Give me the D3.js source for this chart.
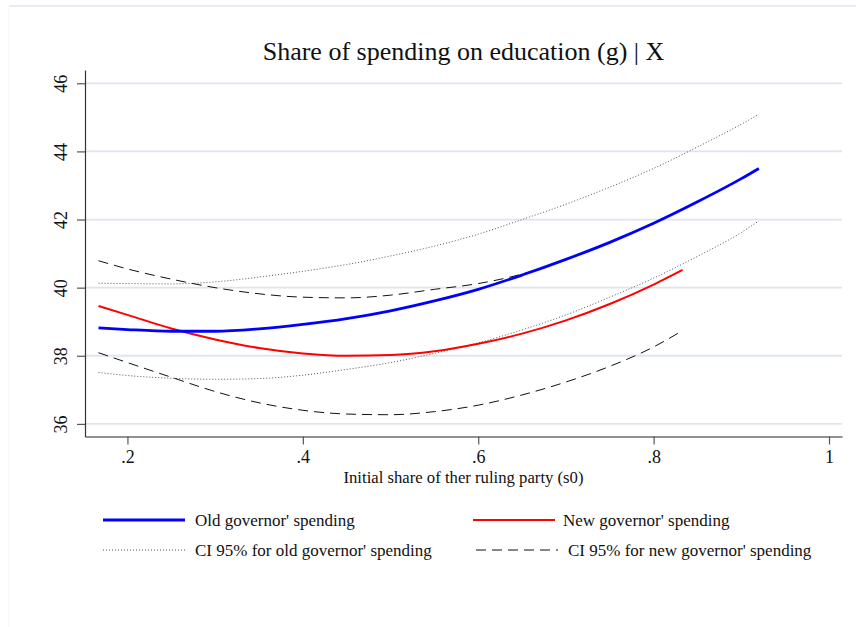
<!DOCTYPE html>
<html>
<head>
<meta charset="utf-8">
<script src="https://cdn.jsdelivr.net/npm/d3@7"></script>
<style>
  html, body { margin: 0; padding: 0; background: #fff; }
  svg { display: block; }
  text { font-family: "Liberation Serif", "Times New Roman", serif; fill: #111; }
</style>
</head>
<body>
<svg id="chart" width="856" height="627"></svg>
<script>
// Fitted share of spending on education against initial ruling-party share
const xOld = [0.167, 0.2, 0.25, 0.3, 0.35, 0.4, 0.45, 0.5, 0.55, 0.6, 0.65, 0.7, 0.75, 0.8, 0.85, 0.9, 0.92];
const oldSpending = [38.82, 38.77, 38.72, 38.72, 38.79, 38.92, 39.09, 39.32, 39.61, 39.95, 40.37, 40.83, 41.33, 41.89, 42.52, 43.2, 43.5];
const oldUpper = [40.13, 40.12, 40.11, 40.17, 40.31, 40.48, 40.68, 40.93, 41.22, 41.57, 42.0, 42.45, 42.95, 43.5, 44.13, 44.8, 45.09];
const oldLower = [37.51, 37.42, 37.34, 37.31, 37.33, 37.43, 37.6, 37.8, 38.07, 38.38, 38.76, 39.2, 39.72, 40.28, 40.92, 41.62, 41.96];

const xNew = [0.167, 0.2, 0.25, 0.3, 0.35, 0.4, 0.45, 0.5, 0.55, 0.6, 0.65, 0.7, 0.75, 0.8, 0.833];
const newSpending = [39.46, 39.2, 38.8, 38.48, 38.23, 38.07, 38.0, 38.02, 38.13, 38.35, 38.65, 39.04, 39.52, 40.09, 40.52];
const newUpper = [40.79, 40.55, 40.25, 40.0, 39.82, 39.72, 39.7, 39.78, 39.95, 40.12, 40.4, 40.83, 41.33, 41.89, 42.3];
const newLower = [38.09, 37.8, 37.37, 36.95, 36.62, 36.4, 36.29, 36.27, 36.36, 36.55, 36.85, 37.23, 37.69, 38.26, 38.74];

const xTicks = [0.2, 0.4, 0.6, 0.8, 1];
const yTicks = [36, 38, 40, 42, 44, 46];

const titleText = "Share of spending on education (g) | X";
const xTitle = "Initial share of ther ruling party (s0)";
const legendLabels = [
  "Old governor' spending",
  "New governor' spending",
  "CI 95% for old governor' spending",
  "CI 95% for new governor' spending"
];

const svg = d3.select("#chart");

// faint outer frame of the graph region
svg.append("line").attr("x1", 9).attr("x2", 856).attr("y1", 6).attr("y2", 6)
  .attr("stroke", "#e1e7ef").attr("stroke-width", 1.5);
svg.append("line").attr("x1", 9).attr("x2", 9).attr("y1", 6).attr("y2", 627)
  .attr("stroke", "#f3f5f8").attr("stroke-width", 1);

const plotLeft = 85, plotRight = 842, plotTop = 70, plotBottom = 436.5;

const x = d3.scaleLinear().domain([0.1516, 1.0148]).range([plotLeft, plotRight]);
const y = d3.scaleLinear().domain([35.63, 46.39]).range([plotBottom, plotTop]);

// horizontal gridlines
svg.append("g").selectAll("line").data(yTicks).join("line")
  .attr("x1", plotLeft).attr("x2", plotRight)
  .attr("y1", d => y(d)).attr("y2", d => y(d))
  .attr("stroke", "#dfe4ee").attr("stroke-width", 1.8);

// axes
const fmtX = d => d === 1 ? "1" : d3.format(".1f")(d).replace(/^0/, "");
const gx = svg.append("g").attr("transform", `translate(0,${plotBottom})`)
  .call(d3.axisBottom(x).tickValues(xTicks).tickFormat(fmtX).tickSize(8).tickSizeOuter(0).tickPadding(6));
gx.select(".domain").attr("stroke", "#222").attr("stroke-width", 1.2);
gx.selectAll(".tick line").attr("stroke", "#555").attr("stroke-width", 1.2);
gx.selectAll(".tick text").attr("font-size", 18).attr("font-family", "Liberation Serif").attr("fill", "#111");

const gy = svg.append("g").attr("transform", `translate(${plotLeft},0)`)
  .call(d3.axisLeft(y).tickValues(yTicks).tickSize(8).tickSizeOuter(0));
gy.select(".domain").attr("stroke", "#333").attr("stroke-width", 1.2);
gy.selectAll(".tick line").attr("stroke", "#555").attr("stroke-width", 1.2);
gy.selectAll(".tick text")
  .attr("font-size", 18).attr("font-family", "Liberation Serif").attr("fill", "#111")
  .attr("x", null).attr("dy", null)
  .attr("text-anchor", "middle")
  .attr("transform", "translate(-18,0) rotate(-90)");

// titles
svg.append("text").attr("x", (plotLeft + plotRight) / 2).attr("y", 60)
  .attr("text-anchor", "middle").attr("font-size", 26).text(titleText);
svg.append("text").attr("x", (plotLeft + plotRight) / 2).attr("y", 483)
  .attr("text-anchor", "middle").attr("font-size", 16.7).text(xTitle);

// curves
const line = (xs) => d3.line().x((d, i) => x(xs[i])).y(d => y(d)).curve(d3.curveMonotoneX);
const plot = svg.append("g");

const styles = {
  old: { stroke: "#0000ff", width: 2.8, dash: null },
  nw: { stroke: "#ff0000", width: 2, dash: null },
  oldCI: { stroke: "#555", width: 1, dash: "1,2" },
  newCI: { stroke: "#111", width: 1, dash: "10,6" }
};

function draw(xs, ys, st) {
  plot.append("path").datum(ys).attr("d", line(xs))
    .attr("fill", "none").attr("stroke", st.stroke).attr("stroke-width", st.width)
    .attr("stroke-dasharray", st.dash);
}
draw(xOld, oldUpper, styles.oldCI);
draw(xOld, oldLower, styles.oldCI);
draw(xNew, newUpper, styles.newCI);
draw(xNew, newLower, styles.newCI);
draw(xNew, newSpending, styles.nw);
draw(xOld, oldSpending, styles.old);

// legend
const legendItems = [
  { label: legendLabels[0], st: styles.old, x: 103, y: 520 },
  { label: legendLabels[1], st: styles.nw, x: 473, y: 520 },
  { label: legendLabels[2], st: styles.oldCI, x: 103, y: 550 },
  { label: legendLabels[3], st: styles.newCI, x: 476, y: 550 }
];
const lg = svg.append("g").selectAll("g").data(legendItems).join("g")
  .attr("transform", d => `translate(${d.x},${d.y})`);
lg.append("line").attr("x1", 0).attr("x2", 82).attr("y1", 0).attr("y2", 0)
  .attr("stroke", d => d.st.stroke).attr("stroke-width", d => d.st.width)
  .attr("stroke-dasharray", d => d.st.dash);
lg.append("text").attr("x", (d, i) => i === 1 ? 90 : 92).attr("y", 5.5).attr("font-size", 17).text(d => d.label);
</script>
</body>
</html>
